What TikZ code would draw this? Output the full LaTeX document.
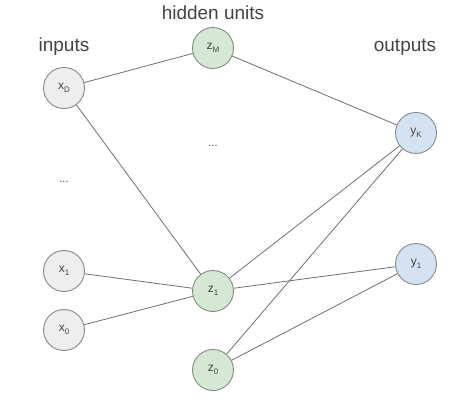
\documentclass[tikz,border=0pt]{standalone}
\usepackage{fontspec}
\setmainfont{Liberation Sans}
\definecolor{txt}{HTML}{444444}
\definecolor{edge}{HTML}{707070}
\definecolor{inp}{HTML}{EEEEEE}
\definecolor{hid}{HTML}{D5E8D4}
\definecolor{outc}{HTML}{D4E3F3}
\definecolor{bord}{HTML}{888888}
\newcommand{\nsub}[2]{#1\raisebox{-3pt}{\fontsize{8}{9}\selectfont #2}}
\begin{document}
\begin{tikzpicture}[x=1pt,y=-1pt,
  unit/.style={circle,draw=bord,line width=0.9pt,minimum size=41pt,inner sep=0pt,
    text=txt,font=\fontsize{12}{14}\selectfont},
  inunit/.style={unit,fill=inp},
  hidunit/.style={unit,fill=hid},
  outunit/.style={unit,fill=outc},
  heading/.style={text=txt,font=\fontsize{19}{22}\selectfont,inner sep=0pt},
  dots/.style={text=txt,font=\fontsize{11}{13}\selectfont,inner sep=0pt},
  conn/.style={draw=edge,line width=0.8pt}]
\useasboundingbox (0,0) rectangle (474,407);
\fill[white] (0,0) rectangle (474,407);
\node[inunit] (xD) at (64,88) {\nsub{x}{D}};
\node[inunit] (x1) at (64,271) {\nsub{x}{1}};
\node[inunit] (x0) at (64,330) {\nsub{x}{0}};
\node[hidunit] (zM) at (213,48) {\nsub{z}{M}};
\node[hidunit] (z1) at (213,291) {\nsub{z}{1}};
\node[hidunit] (z0) at (213,370) {\nsub{z}{0}};
\node[outunit] (yK) at (416,133) {\nsub{y}{K}};
\node[outunit] (y1) at (416,264) {\nsub{y}{1}};
\node[heading] (hin) at (64,47) {inputs};
\node[heading] (hhid) at (213,13) {hidden units};
\node[heading] (hout) at (405,47) {outputs};
\node[dots] (d1) at (64,182) {...};
\node[dots] (d2) at (213,146) {...};
\path[conn] (xD) -- (zM);
\path[conn] (xD) -- (z1);
\path[conn] (x1) -- (z1);
\path[conn] (x0) -- (z1);
\path[conn] (zM) -- (yK);
\path[conn] (z1) -- (yK);
\path[conn] (z1) -- (y1);
\path[conn] (z0) -- (yK);
\path[conn] (z0) -- (y1);
\end{tikzpicture}
\end{document}
